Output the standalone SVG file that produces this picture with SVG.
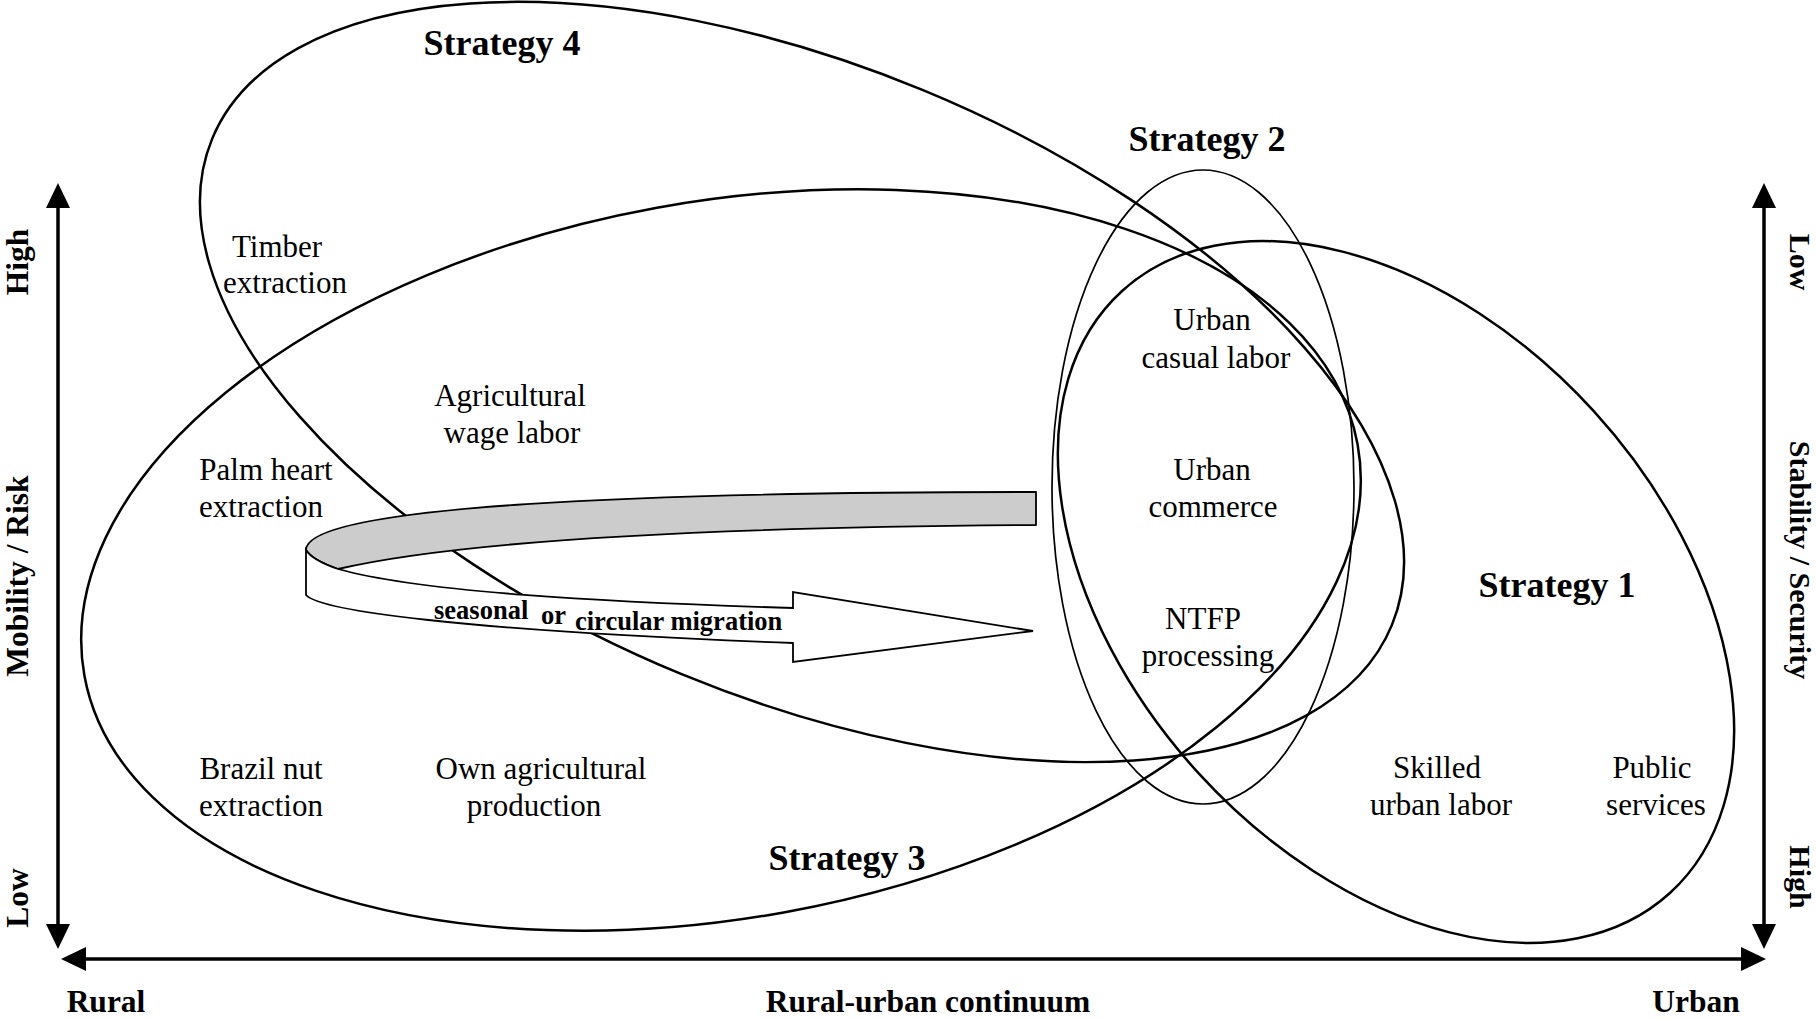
<svg xmlns="http://www.w3.org/2000/svg" width="1816" height="1018" viewBox="0 0 1816 1018">
<style>
.bg{fill:#ffffff}
.ell{fill:none;stroke:#000;stroke-width:2.5}
.ell-thin{fill:none;stroke:#000;stroke-width:1.7}
.axis{stroke:#000;stroke-width:3.5;fill:none}
.head{fill:#000;stroke:none}
.t{font-family:"Liberation Serif","Times New Roman",serif;font-size:31px;fill:#000;text-anchor:middle}
.b{font-family:"Liberation Serif","Times New Roman",serif;font-size:31.5px;font-weight:bold;fill:#000;text-anchor:middle}
.br{font-family:"Liberation Serif","Times New Roman",serif;font-size:30px;font-weight:bold;fill:#000;text-anchor:middle}
.s{font-family:"Liberation Serif","Times New Roman",serif;font-size:36px;font-weight:bold;fill:#000;text-anchor:middle}
.m{font-family:"Liberation Serif","Times New Roman",serif;font-size:26.5px;font-weight:bold;fill:#000}
.rib-back{fill:#cccccc;stroke:#000;stroke-width:1.8;stroke-linejoin:round}
.rib-front{fill:#ffffff;stroke:#000;stroke-width:1.8;stroke-linejoin:miter}
</style>
<rect class="bg" x="0" y="0" width="1816" height="1018"/>

<g id="axes">
  <line class="axis" x1="58" y1="204" x2="58" y2="928"/>
  <polygon class="head" points="58,183 46,208 70,208"/>
  <polygon class="head" points="58,949 46,924 70,924"/>
  <line class="axis" x1="1764" y1="204" x2="1764" y2="928"/>
  <polygon class="head" points="1764,183 1752,208 1776,208"/>
  <polygon class="head" points="1764,949 1752,924 1776,924"/>
  <line class="axis" x1="82" y1="959" x2="1745" y2="959"/>
  <polygon class="head" points="61,959 86,947 86,971"/>
  <polygon class="head" points="1766,959 1741,947 1741,971"/>
  <text class="b" transform="translate(28,262) rotate(-90)">High</text>
  <text class="b" transform="translate(28,576) rotate(-90)">Mobility / Risk</text>
  <text class="b" transform="translate(28,898) rotate(-90)">Low</text>
  <text class="br" transform="translate(1790,262) rotate(90)">Low</text>
  <text class="br" transform="translate(1790,560) rotate(90)">Stability / Security</text>
  <text class="br" transform="translate(1790,877) rotate(90)">High</text>
  <text class="b" x="106" y="1012">Rural</text>
  <text class="b" x="928" y="1012">Rural-urban continuum</text>
  <text class="b" x="1696" y="1012">Urban</text>
</g>

<g id="strategy-3">
  <ellipse class="ell" cx="721" cy="560" rx="647" ry="358" transform="rotate(-10.3 721 560)"/>
  <text class="s" x="847" y="870">Strategy 3</text>
</g>
<g id="strategy-4">
  <ellipse class="ell" cx="802" cy="382" rx="638" ry="316" transform="rotate(22.4 802 382)"/>
  <text class="s" x="502" y="55">Strategy 4</text>
</g>
<g id="strategy-2">
  <ellipse class="ell-thin" cx="1203" cy="487" rx="151" ry="317"/>
  <text class="s" x="1207" y="151">Strategy 2</text>
</g>
<g id="strategy-1">
  <ellipse class="ell" cx="1396" cy="592" rx="407" ry="268" transform="rotate(47.7 1396 592)"/>
  <text class="s" x="1557" y="597">Strategy 1</text>
</g>

<g id="connectors">
  <g id="migration-arrow">
    <path class="rib-back" d="M1036,492 C650,492 306,505 306,550 Q312,560 338,569 C420,550 600,528 1036,525 Z"/>
    <path class="rib-front" d="M306,550 L306,595 C320,610 450,630 793,643 L793,662 L1033,631 L793,592 L793,608 C600,602 420,592 338,569 Q312,560 306,550 Z"/>
    <text class="m" x="434" y="619">seasonal</text>
    <text class="m" x="541" y="624">or</text>
    <text class="m" x="575" y="630">circular migration</text>
  </g>
</g>

<g id="timber-extraction">
  <text class="t" x="277" y="257">Timber</text>
  <text class="t" x="285" y="293">extraction</text>
</g>
<g id="agricultural-wage-labor">
  <text class="t" x="510" y="406">Agricultural</text>
  <text class="t" x="512" y="443">wage labor</text>
</g>
<g id="palm-heart-extraction">
  <text class="t" x="266" y="480">Palm heart</text>
  <text class="t" x="261" y="517">extraction</text>
</g>
<g id="brazil-nut-extraction">
  <text class="t" x="261" y="779">Brazil nut</text>
  <text class="t" x="261" y="816">extraction</text>
</g>
<g id="own-agricultural-production">
  <text class="t" x="541" y="779">Own agricultural</text>
  <text class="t" x="534" y="816">production</text>
</g>
<g id="urban-casual-labor">
  <text class="t" x="1212" y="330">Urban</text>
  <text class="t" x="1216" y="368">casual labor</text>
</g>
<g id="urban-commerce">
  <text class="t" x="1212" y="480">Urban</text>
  <text class="t" x="1213" y="517">commerce</text>
</g>
<g id="ntfp-processing">
  <text class="t" x="1203" y="629">NTFP</text>
  <text class="t" x="1208" y="666">processing</text>
</g>
<g id="skilled-urban-labor">
  <text class="t" x="1437" y="778">Skilled</text>
  <text class="t" x="1441" y="815">urban labor</text>
</g>
<g id="public-services">
  <text class="t" x="1652" y="778">Public</text>
  <text class="t" x="1656" y="815">services</text>
</g>
</svg>
